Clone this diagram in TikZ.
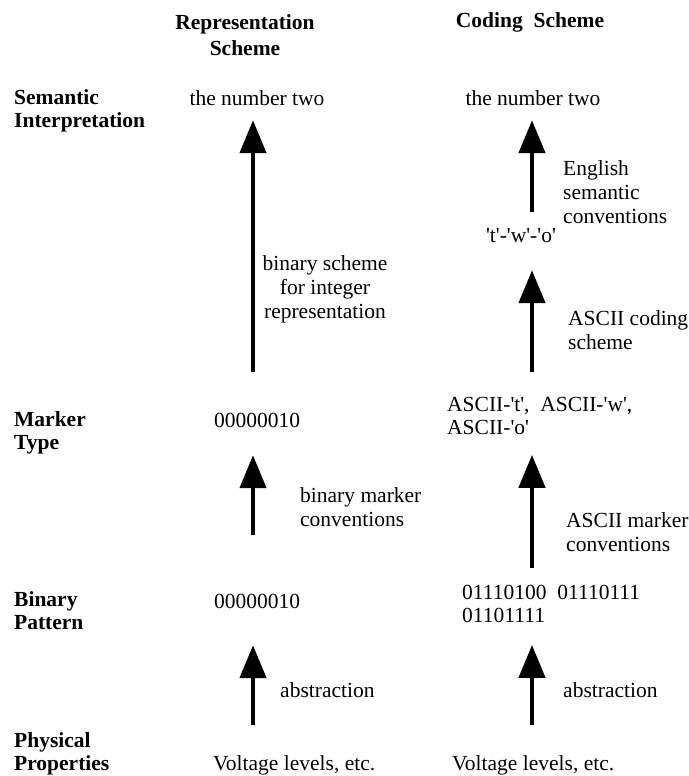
\documentclass[tikz,border=0pt]{standalone}
\usepackage{fontspec}
\setmainfont{Liberation Serif}[Ligatures=TeXOff]
\usetikzlibrary{arrows.meta}

\tikzset{
  txt/.style={inner sep=0pt, text height=15pt, text depth=5pt, font=\fontsize{21.5}{23}\selectfont},
  txtm/.style={inner sep=0pt, align=left, font=\fontsize{21.5}{23}\selectfont},
  lbl/.style={inner sep=0pt, align=left, anchor=west, font=\fontsize{21.5}{24}\selectfont},
  hd/.style={inner sep=0pt, align=left, anchor=west, font=\fontsize{21.5}{23}\selectfont\bfseries},
  up/.style={line width=4.5pt, -{Triangle[width=26pt,length=33pt]}},
}

\begin{document}
\begin{tikzpicture}[x=1pt,y=-1pt]
\useasboundingbox (0,0) rectangle (688,776);

\coordinate (colL) at (253,0);
\coordinate (colR) at (532,0);

% column heads
\node[hd, align=center, anchor=center, font=\fontsize{21.5}{26}\selectfont\bfseries](rep) at (245,35) {Representation\\Scheme};
\node[hd, anchor=center](cod) at (530,22) {Coding\ \ Scheme};

% level names
\node[hd](sem) at (14,111) {Semantic\\Interpretation};
\node[hd](mkr) at (14,433) {Marker\\Type};
\node[hd](bin) at (14,611) {Binary\\Pattern};
\node[hd](phy) at (14,754) {Physical\\Properties};

% representation scheme
\node[txt](n1) at (257,100) {the number two};
\node[txt](m1) at (257,422) {00000010};
\node[txt](b1) at (257,603) {00000010};
\node[txt, anchor=west](v1) at (213,765) {Voltage levels, etc.};

% coding scheme
\node[txt](n2) at (533,100) {the number two};
\node[txt](t2) at (521,237) {'t'-'w'-'o'};
\node[txtm, anchor=north west](m2) at (447,397) {ASCII-'t',\ \ ASCII-'w',\\ASCII-'o'};
\node[txtm, anchor=north west](b2) at (462,585) {01110100\ \ 01110111\\01101111};
\node[txt, anchor=west](v2) at (452,765) {Voltage levels, etc.};

% arrow labels
\node[lbl, align=center, anchor=center](l1) at (325,289) {binary scheme\\for integer\\representation};
\node[lbl](l2) at (300,507) {binary marker\\conventions};
\node[lbl](l3) at (280,690) {abstraction};
\node[lbl](r1) at (563,192) {English\\semantic\\conventions};
\node[lbl](r2) at (568,330) {ASCII coding\\scheme};
\node[lbl](r3) at (566,532) {ASCII marker\\conventions};
\node[lbl](r4) at (563,690) {abstraction};

\draw[up, shorten <=40pt, shorten >=10pt] (m1.north -| colL) -- (n1.south -| colL);
\draw[up, shorten <=58pt, shorten >=23pt] (b1.north -| colL) -- (m1.south -| colL);
\draw[up, shorten <=30pt, shorten >=32pt] (v1.north -| colL) -- (b1.south -| colL);

\draw[up, shorten <=15pt, shorten >=10pt] (t2.north -| colR) -- (n2.south -| colR);
\draw[up, shorten <=25pt, shorten >=23pt] (m2.north -| colR) -- (t2.south -| colR);
\draw[up, shorten <=17pt, shorten >=20pt] (b2.north -| colR) -- (m2.south -| colR);
\draw[up, shorten <=30pt, shorten >=22pt] (v2.north -| colR) -- (b2.south -| colR);

\end{tikzpicture}
\end{document}
